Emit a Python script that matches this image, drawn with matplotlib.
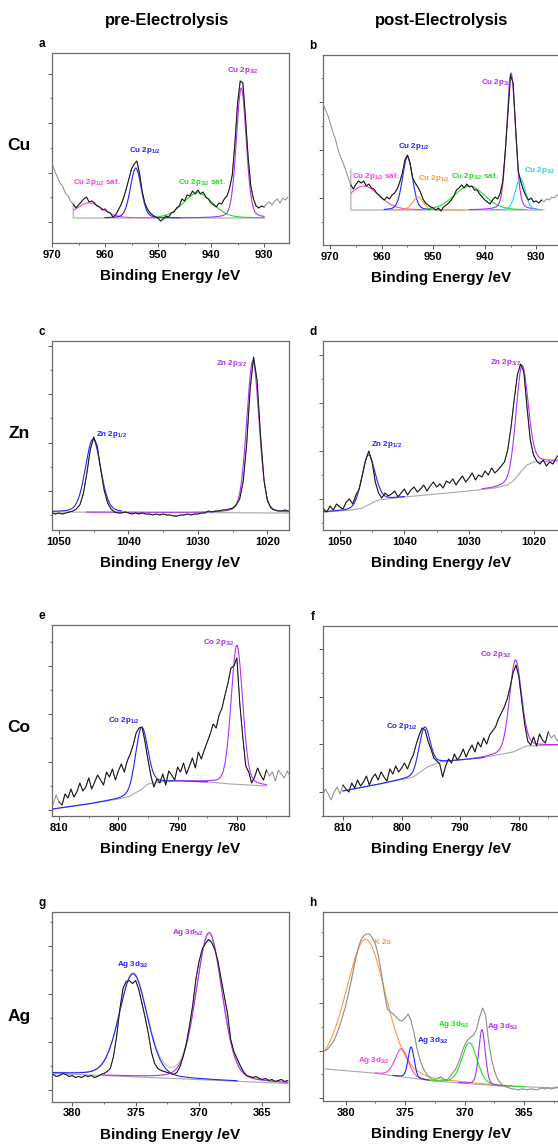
import numpy as np
import matplotlib.pyplot as plt

plt.rcParams['font.family'] = ['Liberation Sans', 'DejaVu Sans']
plt.rcParams['mathtext.fontset'] = 'custom'
plt.rcParams['mathtext.rm'] = 'Liberation Sans:bold'
plt.rcParams['mathtext.it'] = 'Liberation Sans:bold'
plt.rcParams['mathtext.bf'] = 'Liberation Sans:bold'

# ---------------- measured spectra (intensity, a.u.) ----------------
# each spectrum: first binding energy, step (eV), intensities
cu_pre_start, cu_pre_step = 970.0, 0.5
cu_pre_counts = [80, 72, 66, 60, 57, 50, 47, 42, 39,
                 35, 38, 41, 44, 46, 41, 42, 40, 37, 36,
                 33, 34, 31, 30, 26, 28, 33, 38, 45, 54,
                 64, 74, 79, 82, 70, 52, 40, 34, 30, 28,
                 26, 25, 22, 24, 27, 26, 30, 31, 35, 37,
                 44, 42, 48, 47, 52, 49, 53, 49, 51, 46,
                 44, 40, 38, 36, 40, 39, 44, 47, 55, 68,
                 100, 140, 162, 160, 125, 85, 57, 44, 37, 35,
                 37, 36, 39, 41, 38, 42, 44, 40, 45, 43, 46]

cu_post_start, cu_post_step = 971.5, 0.5
cu_post_counts = [143, 136, 130, 122, 113, 106, 96, 88, 82, 75, 67, 60,
                  56, 61, 64, 62, 64, 59, 61, 57, 56, 52,
                  50, 47, 45, 48, 46, 50, 52, 56, 63, 72,
                  85, 90, 82, 67, 62, 58, 53, 46, 42, 40,
                  38, 37, 35, 37, 34, 38, 40, 42, 45, 49,
                  55, 57, 60, 57, 61, 58, 59, 55, 55, 51,
                  48, 45, 43, 41, 45, 48, 46, 52, 64, 95,
                  132, 170, 162, 116, 74, 63, 55, 49, 45, 47,
                  43, 44, 42, 45, 43, 46, 45, 48, 47, 50, 49]

zn_pre_start, zn_pre_step = 1051.0, 0.5
zn_pre_counts = [17, 16, 17, 16, 17, 18, 19, 21, 25, 36,
                 56, 80, 93, 84, 61, 40, 27, 21, 18, 17,
                 17, 18, 17, 16, 17, 16, 17, 16, 16, 15,
                 16, 15, 16, 15, 15, 14, 14, 15, 15, 16,
                 15, 16, 16, 17, 17, 19, 18, 19, 19, 20,
                 20, 21, 22, 25, 31, 48, 85, 140, 173, 150,
                 95, 50, 29, 22, 20, 19, 19, 20, 19]

zn_post_start, zn_post_step = 1052.5, 0.5
zn_post_counts = [21, 18, 24, 20, 26, 23, 21, 28, 31, 26,
                  35, 41, 55, 70, 79, 68, 48, 37, 32, 37,
                  34, 36, 39, 33, 37, 41, 35, 40, 43, 38,
                  41, 45, 39, 44, 48, 43, 46, 42, 49, 47,
                  51, 45, 50, 54, 48, 52, 57, 50, 55, 53,
                  59, 55, 62, 57, 60, 64, 68, 80, 102, 130,
                  155, 166, 158, 122, 90, 75, 69, 66, 70, 64,
                  68, 66, 72, 76]

co_pre_start, co_pre_step = 811.0, 0.5
co_pre_counts = [12, 21, 14, 11, 22, 18, 27, 19, 24, 33,
                 25, 29, 38, 27, 34, 41, 36, 31, 44, 39,
                 47, 36, 45, 52, 44, 55, 62, 71, 83, 88,
                 89, 74, 56, 40, 29, 37, 33, 42, 31, 45,
                 41, 36, 49, 44, 53, 42, 50, 58, 48, 64,
                 57, 66, 74, 82, 92, 88, 101, 108, 121, 133,
                 148, 150, 158, 112, 79, 50, 44, 33, 39, 48,
                 41, 36, 46, 40, 44, 35, 46, 42, 38, 45, 40]

co_post_start, co_post_step = 813.5, 0.5
co_post_counts = [20, 27, 22, 16, 24, 29, 22, 31, 27, 24,
                  33, 28, 36, 30, 34, 40, 31, 38, 42, 36,
                  44, 39, 35, 47, 42, 50, 44, 48, 53, 47,
                  55, 61, 72, 81, 88, 86, 75, 67, 58, 55,
                  52, 39, 50, 57, 53, 62, 56, 60, 67, 59,
                  66, 71, 64, 74, 69, 78, 72, 81, 85, 89,
                  97, 103, 109, 117, 129, 143, 151, 139, 114, 91,
                  75, 71, 79, 70, 82, 76, 73, 84, 78, 81, 75, 79]

ag_pre_start, ag_pre_step = 381.5, 0.25
ag_pre_counts = [27, 25, 26, 28, 27, 25, 26, 24, 25, 24,
                 26, 25, 26, 24, 25, 27, 28, 30, 33, 45,
                 65, 92, 113, 120, 121, 118, 121, 112, 98, 84,
                 68, 49, 38, 33, 31, 30, 29, 28, 27, 29,
                 35, 45, 58, 76, 96, 122, 140, 152, 158, 162,
                 159, 152, 140, 122, 105, 88, 62, 50, 43, 36,
                 30, 26, 25, 24, 25, 23, 22, 23, 21, 22,
                 20, 21, 22, 20, 21]

ag_post_start, ag_post_step = 381.75, 0.25
ag_post_counts = [50, 52, 56, 60, 67, 75, 85, 95, 108, 122,
                  137, 150, 160, 165, 167, 167, 163, 157, 145, 128,
                  108, 92, 89, 87, 84, 81, 80, 83, 87, 80,
                  68, 52, 41, 33, 28, 24, 22, 21, 23, 24,
                  22, 21, 24, 28, 32, 39, 48, 56, 61, 64,
                  66, 72, 84, 93, 86, 60, 42, 30, 22, 18,
                  15, 14, 13, 12, 12, 11, 12, 12, 11, 12,
                  12, 11, 12, 13, 12, 13, 12, 13, 14, 13]

# ---------------- backgrounds (binding energy, intensity) ----------------
cu_pre_bg_be = [966.0, 965.99, 930.0]
cu_pre_bg = [38, 25, 25]
cu_post_bg_be = [966.0, 965.99, 928.5]
cu_post_bg = [76, 35, 35]
zn_pre_bg_be = [1051.0, 1017.0]
zn_pre_bg = [18, 17]
zn_post_bg_be = [1052.5, 1048, 1046.5, 1045, 1044, 1040, 1035, 1030, 1026, 1024, 1023, 1022, 1021, 1020, 1016]
zn_post_bg = [18, 20, 22, 27, 30, 33, 36, 39, 42, 45, 50, 58, 65, 68, 69]
co_pre_bg_be = [811, 805, 800, 798, 796, 795, 793, 790, 785, 781, 775]
co_pre_bg = [7, 12, 17, 20, 27, 32, 34, 35, 34, 32, 30]
co_post_bg_be = [810, 803.7, 798, 795.6, 793.4, 786.6, 781, 778.7, 773.3]
co_post_bg = [25, 32, 39, 49, 54, 58, 64, 70, 71]
ag_pre_bg_be = [381.5, 372, 363]
ag_pre_bg = [28, 23, 18]
ag_post_bg_be = [381.7, 377.7, 372.6, 367.0, 362.1]
ag_post_bg = [32, 28, 20, 15, 13]

# ---------------- fitted components: centre, FWHM, height ----------------
cu_pre_names = ['Cu 2p$_{1/2}$ sat.', 'Cu 2p$_{1/2}$', 'Cu 2p$_{3/2}$ sat.', 'Cu 2p$_{3/2}$']
cu_pre_centers = [963.0, 954.2, 942.5, 934.3]
cu_pre_fwhm = [6.0, 2.4, 6.5, 2.2]
cu_pre_heights = [15, 50, 25, 130]

cu_post_names = ['Cu 2p$_{1/2}$ sat.', 'Cu 2p$_{1/2}$', 'Cu 2p$_{1/2}$',
                 'Cu 2p$_{3/2}$ sat.', 'Cu 2p$_{3/2}$', 'Cu 2p$_{3/2}$']
cu_post_centers = [963.5, 955.0, 953.0, 943.0, 934.9, 933.1]
cu_post_fwhm = [7.0, 2.3, 2.4, 7.0, 2.0, 2.2]
cu_post_heights = [24, 53, 13, 24, 137, 32]

zn_pre_names = ['Zn 2p$_{1/2}$', 'Zn 2p$_{3/2}$']
zn_pre_centers = [1045.1, 1022.1]
zn_pre_fwhm = [2.6, 2.1]
zn_pre_heights = [73, 152]

zn_post_names = ['Zn 2p$_{1/2}$', 'Zn 2p$_{3/2}$']
zn_post_centers = [1045.6, 1021.8]
zn_post_fwhm = [2.4, 2.2]
zn_post_heights = [50, 105]

co_pre_names = ['Co 2p$_{1/2}$', 'Co 2p$_{3/2}$']
co_pre_centers = [796.1, 780.0]
co_pre_fwhm = [2.4, 2.3]
co_pre_heights = [62, 139]

co_post_names = ['Co 2p$_{1/2}$', 'Co 2p$_{3/2}$']
co_post_centers = [796.1, 780.6]
co_post_fwhm = [2.2, 2.4]
co_post_heights = [42, 91]

ag_pre_names = ['Ag 3d$_{3/2}$', 'Ag 3d$_{5/2}$']
ag_pre_centers = [375.2, 369.2]
ag_pre_fwhm = [2.6, 2.4]
ag_pre_heights = [103, 147]

ag_post_names = ['K 2s', 'Ag 3d$_{3/2}$', 'Ag 3d$_{3/2}$', 'Ag 3d$_{5/2}$', 'Ag 3d$_{5/2}$']
ag_post_centers = [378.3, 375.3, 374.5, 369.6, 368.55]
ag_post_fwhm = [3.9, 1.3, 0.6, 1.5, 0.65]
ag_post_heights = [133, 28, 31, 41, 55]

# ---------------- styling ----------------
W, H = 558, 1144
MAG, BLU, GRN, PUR, ORA, CYA = '#ff3fe0', '#2323ff', '#22dd22', '#b030f5', '#ff9a3c', '#22d8e0'

panels = [
    dict(letter='a', box=(52, 53, 243), xlim=(970, 925.3), maj=10, ytick0=21, ystep=49.5,
         start=cu_pre_start, step=cu_pre_step, counts=cu_pre_counts, dark=(966, 930),
         bg_be=cu_pre_bg_be, bg=cu_pre_bg, names=cu_pre_names, centers=cu_pre_centers,
         fwhm=cu_pre_fwhm, heights=cu_pre_heights, colors=[MAG, BLU, GRN, PUR],
         ranges=[(965.9, 950), (960, 946), (950, 930), (946, 930)],
         labels=[(961.6, 60), (952.4, 92), (941.8, 61), (933.9, 173)], ha=['center'] * 4),
    dict(letter='b', box=(323, 55, 245), xlim=(971.4, 925.4), maj=10, ytick0=47, ystep=48,
         start=cu_post_start, step=cu_post_step, counts=cu_post_counts, dark=(966, 929),
         bg_be=cu_post_bg_be, bg=cu_post_bg, names=cu_post_names, centers=cu_post_centers,
         fwhm=cu_post_fwhm, heights=cu_post_heights, colors=[MAG, BLU, ORA, GRN, PUR, CYA],
         ranges=[(965.9, 952), (959.5, 949), (958, 944), (951, 932), (943, 930), (939, 929)],
         labels=[(961.1, 68), (953.8, 99), (949.8, 67), (941.9, 68), (937.7, 162), (932.4, 74)],
         ha=['center'] * 5 + ['left']),
    dict(letter='c', box=(52, 341, 530), xlim=(1051, 1016.9), maj=10, ytick0=39, ystep=48.5,
         start=zn_pre_start, step=zn_pre_step, counts=zn_pre_counts, dark=(1052, 1016),
         bg_be=zn_pre_bg_be, bg=zn_pre_bg, names=zn_pre_names, centers=zn_pre_centers,
         fwhm=zn_pre_fwhm, heights=zn_pre_heights, colors=[BLU, PUR],
         ranges=[(1051, 1041), (1046, 1017)],
         labels=[(1042.4, 95), (1025.2, 167)], ha=['center'] * 2),
    dict(letter='d', box=(323, 341, 530), xlim=(1052.6, 1015.9), maj=10, ytick0=31, ystep=48,
         start=zn_post_start, step=zn_post_step, counts=zn_post_counts, dark=(1053, 1016),
         bg_be=zn_post_bg_be, bg=zn_post_bg, names=zn_post_names, centers=zn_post_centers,
         fwhm=zn_post_fwhm, heights=zn_post_heights, colors=[BLU, PUR],
         ranges=[(1052.5, 1040), (1028, 1016)],
         labels=[(1042.8, 85), (1024.4, 168)], ha=['center'] * 2),
    dict(letter='e', box=(52, 625, 816), xlim=(811.2, 771.2), maj=10, ytick0=6, ystep=48,
         start=co_pre_start, step=co_pre_step, counts=co_pre_counts, dark=(810, 775),
         bg_be=co_pre_bg_be, bg=co_pre_bg, names=co_pre_names, centers=co_pre_centers,
         fwhm=co_pre_fwhm, heights=co_pre_heights, colors=[BLU, PUR],
         ranges=[(811, 785), (790, 775)],
         labels=[(799.0, 96), (783.0, 174)], ha=['center'] * 2),
    dict(letter='f', box=(323, 626, 816), xlim=(813.4, 773.0), maj=10, ytick0=24, ystep=47.7,
         start=co_post_start, step=co_post_step, counts=co_post_counts, dark=(810, 775),
         bg_be=co_post_bg_be, bg=co_post_bg, names=co_post_names, centers=co_post_centers,
         fwhm=co_post_fwhm, heights=co_post_heights, colors=[BLU, PUR],
         ranges=[(810, 786), (788, 773)],
         labels=[(800.0, 90), (784.0, 161)], ha=['center'] * 2),
    dict(letter='g', box=(52, 912, 1101.5), xlim=(381.6, 362.9), maj=5, ytick0=11.5, ystep=48,
         start=ag_pre_start, step=ag_pre_step, counts=ag_pre_counts, dark=(382, 362),
         bg_be=ag_pre_bg_be, bg=ag_pre_bg, names=ag_pre_names, centers=ag_pre_centers,
         fwhm=ag_pre_fwhm, heights=ag_pre_heights, colors=[BLU, PUR],
         ranges=[(381.5, 367), (377.5, 363)],
         labels=[(375.2, 137.5), (370.9, 169.5)], ha=['center'] * 2, envelope=True),
    dict(letter='h', box=(323, 912, 1101), xlim=(381.9, 362.0), maj=5, ytick0=3, ystep=47.5,
         start=ag_post_start, step=ag_post_step, counts=ag_post_counts, dark=None,
         bg_be=ag_post_bg_be, bg=ag_post_bg, names=ag_post_names, centers=ag_post_centers,
         fwhm=ag_post_fwhm, heights=ag_post_heights, colors=[ORA, MAG, BLU, GRN, PUR],
         ranges=[(381.75, 366), (377.5, 373), (376, 373), (373, 365), (370.5, 366.5)],
         labels=[(376.9, 159), (377.6, 41), (372.7, 60), (370.9, 76), (366.8, 75)],
         ha=['center'] * 5),
]


def pseudo_voigt(x, c, w, a, eta=0.2):
    g = np.exp(-4 * np.log(2) * ((x - c) / w) ** 2)
    l = 1 / (1 + 4 * ((x - c) / w) ** 2)
    return a * ((1 - eta) * g + eta * l)


fig = plt.figure(figsize=(W / 100, H / 100), dpi=100)

for p in panels:
    left, top, bottom = p['box']
    axh = bottom - top
    ax = fig.add_axes([left / W, 1 - bottom / H, 237 / W, axh / H])
    ax.set_xlim(*p['xlim'])
    ax.set_ylim(0, axh)

    be = p['start'] - p['step'] * np.arange(len(p['counts']))
    counts = np.array(p['counts'], dtype=float)
    bg_be = np.array(p['bg_be'], dtype=float)
    bg = np.array(p['bg'], dtype=float)

    # background
    ax.plot(bg_be, bg, color='#a8a8a8', lw=0.8, zorder=2)

    # envelope (sum of components)
    if p.get('envelope'):
        xe = np.linspace(bg_be[0], bg_be[-1], 600)
        env = np.interp(xe, bg_be[::-1], bg[::-1])
        for c, w, a in zip(p['centers'], p['fwhm'], p['heights']):
            env = env + pseudo_voigt(xe, c, w, a)
        ax.plot(xe, env, color='#c4c4c4', lw=0.9, zorder=2)

    # fitted components
    for c, w, a, col, (r0, r1) in zip(p['centers'], p['fwhm'], p['heights'], p['colors'], p['ranges']):
        x = np.linspace(r0, r1, 500)
        base = np.interp(x, bg_be[::-1], bg[::-1])
        ax.plot(x, base + pseudo_voigt(x, c, w, a), color=col, lw=0.8, zorder=3)

    # measured spectrum
    if p['dark'] is None:
        ax.plot(be, counts, color='#8c8c8c', lw=0.8, zorder=4)
    else:
        ax.plot(be, counts, color='#8c8c8c', lw=0.7, zorder=4)
        inside = (be <= p['dark'][0]) & (be >= p['dark'][1])
        ax.plot(be[inside], counts[inside], color='#151515', lw=0.7, zorder=5)

    # component labels
    for name, col, (lx, ly), ha in zip(p['names'], p['colors'], p['labels'], p['ha']):
        ax.text(lx, ly, name, color=col, fontsize=5.8, fontweight='bold',
                ha=ha, va='center', zorder=6, clip_on=False)

    # axes styling
    lo, hi = min(p['xlim']), max(p['xlim'])
    m = p['maj']
    ax.set_xticks(np.arange(np.ceil(lo / m) * m, hi + 1e-6, m))
    ax.set_xticks(np.arange(np.ceil(lo / (m / 2)) * (m / 2), hi + 1e-6, m / 2), minor=True)
    ax.set_xticklabels(['%d' % v for v in ax.get_xticks()])
    ymaj = np.arange(p['ytick0'], axh, p['ystep'])
    ymin = np.arange(p['ytick0'] - p['ystep'] / 2, axh, p['ystep'])
    ax.set_yticks(ymaj)
    ax.set_yticks(ymin[ymin > 0], minor=True)
    ax.set_yticklabels([])
    ax.tick_params(axis='both', which='major', direction='out', length=3, width=0.7,
                   color='#555555', labelsize=8, pad=2)
    ax.tick_params(axis='both', which='minor', direction='out', length=1.6, width=0.6,
                   color='#555555')
    for lab in ax.get_xticklabels():
        lab.set_fontweight('bold')
    for s in ax.spines.values():
        s.set_color('#6a6a6a')
        s.set_linewidth(0.9)

    ax.set_xlabel('Binding Energy /eV', fontsize=11, fontweight='bold')
    ax.xaxis.set_label_coords(0.5, -33 / axh)
    ax.xaxis.label.set_verticalalignment('center')

    # panel letter
    fig.text((left - 10) / W, 1 - (top - 9) / H, p['letter'], fontsize=8.5,
             fontweight='bold', ha='center', va='center')

# column titles
fig.text(167 / W, 1 - 20 / H, 'pre-Electrolysis', fontsize=12, fontweight='bold',
         ha='center', va='center')
fig.text(442 / W, 1 - 20 / H, 'post-Electrolysis', fontsize=12, fontweight='bold',
         ha='center', va='center')

# row labels
for name, y in [('Cu', 145), ('Zn', 433), ('Co', 727), ('Ag', 1017)]:
    fig.text(19 / W, 1 - y / H, name, fontsize=12.5, fontweight='bold', ha='center', va='center')

fig.savefig('out.png', dpi=100)
